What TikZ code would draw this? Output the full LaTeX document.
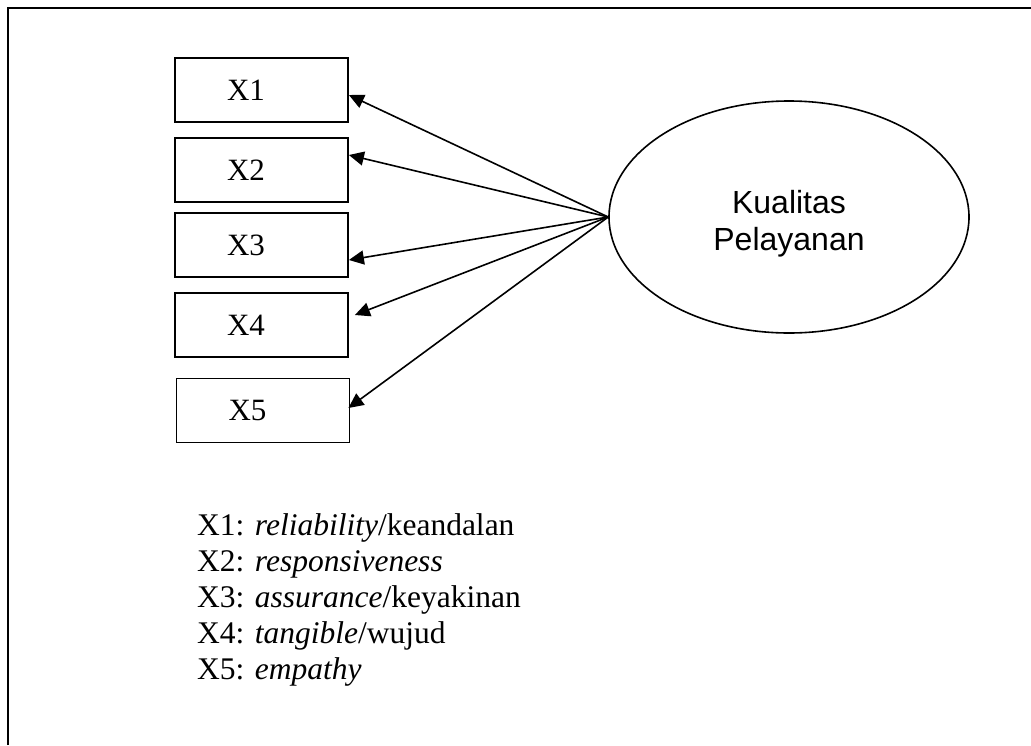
\documentclass[tikz,border=0pt]{standalone}
\usepackage{fontspec}
\setmainfont{Liberation Serif}
\newfontfamily\arialfont{Liberation Sans}
\usetikzlibrary{shapes.geometric,arrows.meta}

\begin{document}
\begin{tikzpicture}[x=1pt,y=-1pt,
    kotak/.style={draw, line width=1.8pt, rectangle, minimum width=173pt, minimum height=64pt,
        inner xsep=52pt, inner ysep=0pt, text width=69pt, align=left, font=\fontsize{31}{36}\selectfont},
    panah/.style={-{Triangle[length=15pt,width=14pt]}, line width=1.6pt},
    ket/.style={anchor=base west, inner sep=0pt, font=\fontsize{31.5}{36}\selectfont}]
    \useasboundingbox (0,0) rectangle (1031,745);

    % Bingkai
    \draw[line width=2pt] (8,745) -- (8,8) -- (1031,8);

    % Indikator
    \node[kotak] (x1) at (261.5,90) {X1};
    \node[kotak] (x2) at (261.5,170) {X2};
    \node[kotak] (x3) at (261.5,245) {X3};
    \node[kotak] (x4) at (261.5,325) {X4};
    \node[kotak] (x5) at (263,410.5) {X5};

    % Variabel laten
    \node[draw, ellipse, line width=1.6pt, minimum width=360pt, minimum height=232pt, inner sep=0pt,
        align=center, font=\arialfont\fontsize{32}{37}\selectfont] (kp) at (789,217)
        {\rule{0pt}{37pt}Kualitas\\Pelayanan};

    % Panah
    \draw[panah] (kp.west) -- ([yshift=-5pt]x1.east);
    \draw[panah] (kp.west) -- ([yshift=15pt]x2.east);
    \draw[panah] (kp.west) -- ([yshift=-15pt]x3.east);
    \draw[panah] (kp.west) -- ([xshift=6pt,yshift=10pt]x4.east);
    \draw[panah] (kp.west) -- ([xshift=-2pt,yshift=2.5pt]x5.east);

    % Keterangan
    \node[ket] (k1) at (197,535) {X1: \textit{reliability}/keandalan};
    \node[ket] (k2) at (197,571) {X2: \textit{responsiveness}};
    \node[ket] (k3) at (197,607) {X3: \textit{assurance}/keyakinan};
    \node[ket] (k4) at (197,643) {X4: \textit{tangible}/wujud};
    \node[ket] (k5) at (197,679) {X5: \textit{empathy}};
\end{tikzpicture}
\end{document}
